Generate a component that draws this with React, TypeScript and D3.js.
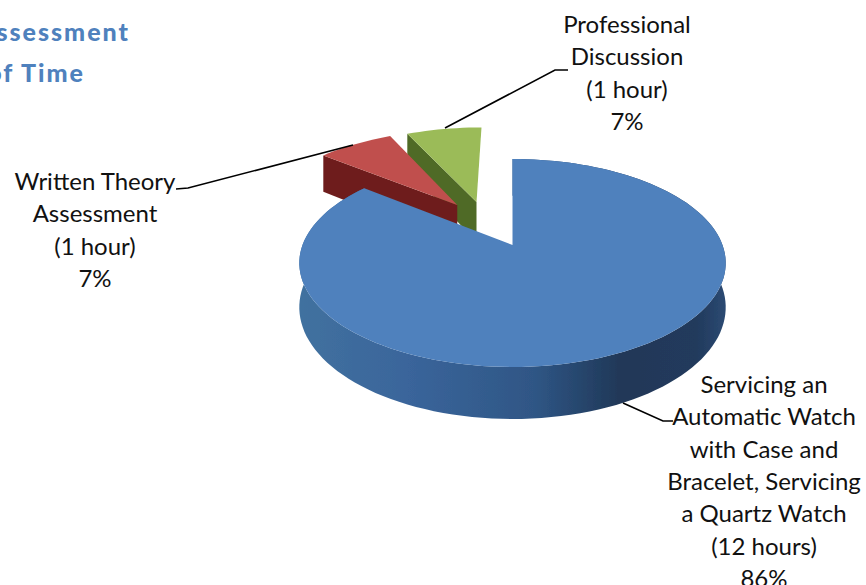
import React from "react";
import * as d3 from "d3";

const categories = ["Servicing", "Written Theory", "Professional"];
const hours = [12, 1, 1];
const labelLines = [
  ["Servicing an", "Automatic Watch", "with Case and", "Bracelet, Servicing", "a Quartz Watch", "(12 hours)", "86%"],
  ["Written Theory", "Assessment", "(1 hour)", "7%"],
  ["Professional", "Discussion", "(1 hour)", "7%"],
];
const titleLines = ["Assessment", "of Time"];
const topColors = ["#4f81bd", "#c0504d", "#9bbb59"];
const wallColors = ["#2f5685", "#6e1f1c", "#4f6a26"];

const explode: [number, number][] = [[0, 0], [-0.2825, -0.426], [-0.185, -0.46]];
const labelPos = [
  { x: 764, y: 393 },
  { x: 95, y: 190 },
  { x: 627, y: 33 },
];
const leaders = [
  [[623, 403], [663, 421], [673, 421]],
  [[353, 145], [188, 188], [176, 189]],
  [[445, 128], [555, 70], [568, 70]],
];

const C = -0.173, A = 58.5, B = 245, E = 210, X0 = 512.5, DEPTH = 43;
function project(u: number, v: number, lower = false): [number, number] {
  const den = 1 + C * v;
  const x = X0 + (E * u) / den;
  const y = (A * v + B) / den + (lower ? DEPTH / den : 0);
  return [x, y];
}

const arcs = d3.pie<number>().sort(null).startAngle(0).endAngle(2 * Math.PI)(hours);
const line = d3.line();

function slicePaths(i: number) {
  const a = arcs[i];
  const [ox, oy] = explode[i];
  const n = Math.max(12, Math.round(((a.endAngle - a.startAngle) / (2 * Math.PI)) * 160));
  const angles = d3.range(n + 1).map((k) => a.startAngle + ((a.endAngle - a.startAngle) * k) / n);
  const rim = (lower: boolean) =>
    angles.map((t) => project(Math.sin(t) + ox, -Math.cos(t) + oy, lower));
  const apexT = project(ox, oy);
  const apexB = project(ox, oy, true);
  const upper = rim(false);
  const lower = rim(true);
  const top = line([apexT, ...upper])! + "Z";
  const ribbon = line([...upper, ...[...lower].reverse()])! + "Z";
  const wall = line([apexT, upper[0], lower[0], apexB])! + "Z";
  return { top, ribbon, wall };
}

export default function App() {
  const order = [2, 1, 0];
  return (
    <svg
      width={866}
      height={585}
      style={{ position: "absolute", left: 0, top: 0, background: "#fff" }}
      fontFamily="Lato, sans-serif"
    >
      <defs>
        <linearGradient id="blueSide" gradientUnits="userSpaceOnUse" x1={301} x2={726} y1={0} y2={0}>
          <stop offset="0" stopColor="#41719f" />
          <stop offset="0.25" stopColor="#3a659b" />
          <stop offset="0.55" stopColor="#2f5685" />
          <stop offset="0.75" stopColor="#203858" />
          <stop offset="0.93" stopColor="#223a5c" />
          <stop offset="1" stopColor="#2b4a73" />
        </linearGradient>
        <filter id="soft" x="-5%" y="-5%" width="110%" height="110%">
          <feGaussianBlur stdDeviation="0.5" />
        </filter>
      </defs>

      <g fill="#4f81bd" fontWeight="900" fontSize={25} textAnchor="end" letterSpacing={2}>
        <text x={130} y={41}>{titleLines[0]}</text>
        <text x={85} y={82}>{titleLines[1]}</text>
      </g>

      <g filter="url(#soft)">
        {order.map((i) => {
          const p = slicePaths(i);
          return (
            <g key={categories[i]}>
              {i === 0 && <path d={p.ribbon} fill="url(#blueSide)" />}
              {i > 0 && <path d={p.wall} fill={wallColors[i]} />}
              <path d={p.top} fill={topColors[i]} />
            </g>
          );
        })}
      </g>

      {leaders.map((pts, i) => (
        <path key={i} d={line(pts as [number, number][])!} fill="none" stroke="#000" strokeWidth={1.6} />
      ))}

      {labelLines.map((lines, i) => (
        <text key={i} textAnchor="middle" fontSize={24} fill="#111">
          {lines.map((t, k) => (
            <tspan key={k} x={labelPos[i].x} y={labelPos[i].y + k * 32.3}>{t}</tspan>
          ))}
        </text>
      ))}
    </svg>
  );
}
